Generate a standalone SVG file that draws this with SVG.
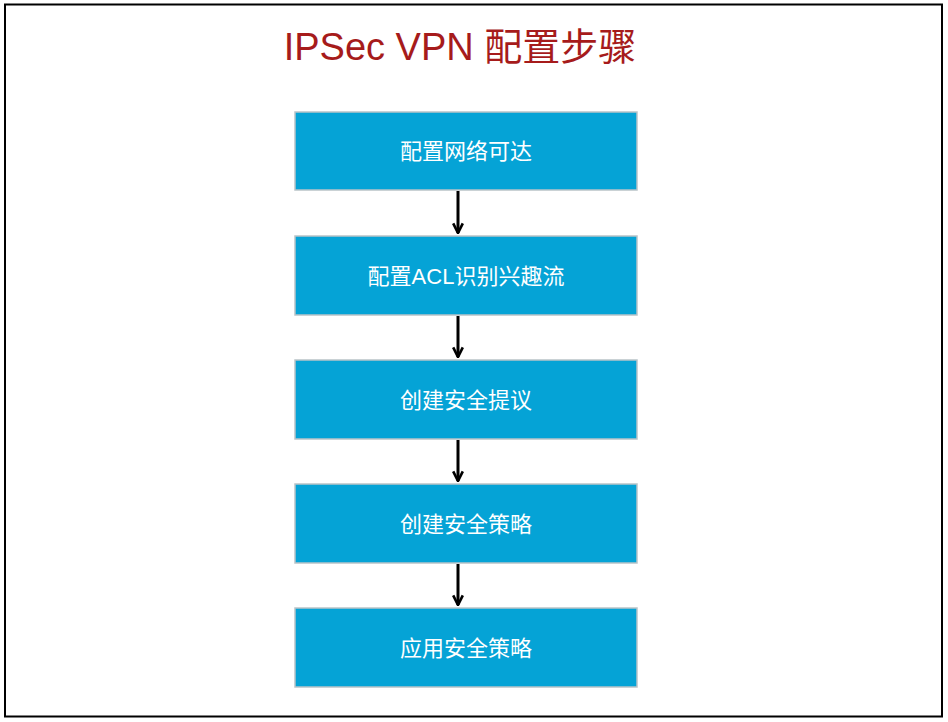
<svg xmlns="http://www.w3.org/2000/svg" width="948" height="722" viewBox="0 0 948 722">
<style>
.box{fill:#05a3d6;stroke:#b9c3c8;stroke-width:1.5}
.lbl{font-family:"Liberation Sans","Noto Sans CJK SC",sans-serif;font-size:22px;fill:#fff;text-anchor:middle}
.con{stroke:#000;stroke-width:3;fill:none}
</style>
<defs><marker id="ah" viewBox="0 0 10 10" refX="9" refY="5" markerWidth="4" markerHeight="4" orient="auto"><path d="M1,1 L9,5 L1,9" fill="none" stroke="#000" stroke-width="2.2"/></marker></defs>
<rect width="948" height="722" fill="#fff"/>
<rect x="5" y="4.5" width="937" height="712" fill="none" stroke="#000" stroke-width="2"/>
<text x="460" y="60" text-anchor="middle" font-family="'Liberation Sans','Noto Sans CJK SC',sans-serif" font-size="38" fill="#a61b1b">IPSec VPN 配置步骤</text>
<g id="connectors">
<line class="con" x1="458" y1="191" x2="458" y2="233" marker-end="url(#ah)"/>
<line class="con" x1="458" y1="316" x2="458" y2="357" marker-end="url(#ah)"/>
<line class="con" x1="458" y1="440" x2="458" y2="481" marker-end="url(#ah)"/>
<line class="con" x1="458" y1="564" x2="458" y2="605" marker-end="url(#ah)"/>
</g>
<g id="n1"><rect class="box" x="295" y="112" width="342" height="78"/><text class="lbl" x="466" y="159">配置网络可达</text></g>
<g id="n2"><rect class="box" x="295" y="236" width="342" height="79"/><text class="lbl" x="466" y="284">配置ACL识别兴趣流</text></g>
<g id="n3"><rect class="box" x="295" y="360" width="342" height="79"/><text class="lbl" x="466" y="408">创建安全提议</text></g>
<g id="n4"><rect class="box" x="295" y="484" width="342" height="79"/><text class="lbl" x="466" y="532">创建安全策略</text></g>
<g id="n5"><rect class="box" x="295" y="608" width="342" height="79"/><text class="lbl" x="466" y="656">应用安全策略</text></g>
</svg>
